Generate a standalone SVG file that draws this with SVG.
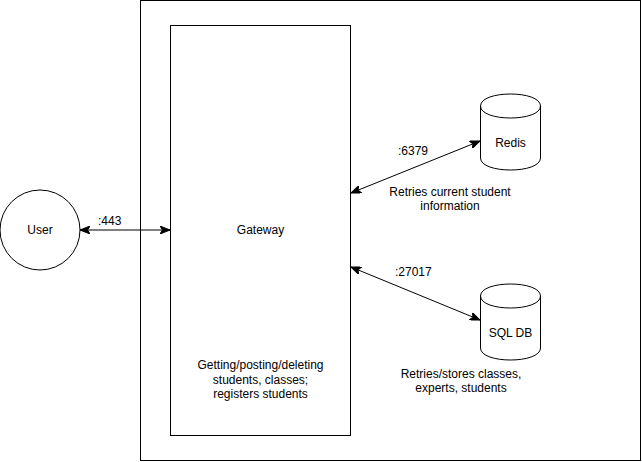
<svg xmlns="http://www.w3.org/2000/svg" width="642" height="462" viewBox="0 0 642 462">
<defs>
<marker id="arr" viewBox="0 0 10 8" refX="10" refY="4" markerWidth="10" markerHeight="8" markerUnits="userSpaceOnUse" orient="auto-start-reverse">
<path d="M0,0 L10,4 L0,8 L2.5,4 Z" fill="#000" stroke="#000" stroke-width="1"/>
</marker>
</defs>
<style>
.s{fill:#fff;stroke:#000;stroke-width:1}
.t{font-family:"Liberation Sans",Arial,sans-serif;font-size:12px;fill:#000}
.c{text-anchor:middle}
.e{fill:none;stroke:#000;stroke-width:1}
</style>
<rect width="642" height="462" fill="#fff"/>
<g id="boundary"><rect class="s" x="140.5" y="0.5" width="500" height="460"/></g>
<g id="user"><circle class="s" cx="40" cy="230" r="40"/><text class="t c" x="40" y="234">User</text></g>
<g id="gateway"><rect class="s" x="170.5" y="25.5" width="180" height="410"/>
<text class="t c" x="260.5" y="234">Gateway</text>
<text class="t c" x="260.5" y="369">Getting/posting/deleting</text>
<text class="t c" x="260.5" y="384">students, classes;</text>
<text class="t c" x="260.5" y="398">registers students</text>
</g>
<g id="redis"><path class="s" d="M480.5,106 C480.5,90 540.5,90 540.5,106 L540.5,158 C540.5,174 480.5,174 480.5,158 Z"/>
<path class="e" d="M480.5,106 C480.5,122 540.5,122 540.5,106"/>
<text class="t c" x="510.5" y="147">Redis</text></g>
<g id="sqldb"><path class="s" d="M480.5,296 C480.5,280 540.5,280 540.5,296 L540.5,348 C540.5,364 480.5,364 480.5,348 Z"/>
<path class="e" d="M480.5,296 C480.5,312 540.5,312 540.5,296"/>
<text class="t c" x="510.5" y="337">SQL DB</text></g>
<g id="connectors">
<line class="e" x1="80" y1="230" x2="170" y2="230" marker-start="url(#arr)" marker-end="url(#arr)"/>
<line class="e" x1="351" y1="193" x2="480" y2="141" marker-start="url(#arr)" marker-end="url(#arr)"/>
<line class="e" x1="351" y1="267" x2="480" y2="320" marker-start="url(#arr)" marker-end="url(#arr)"/>
<text class="t" x="98" y="225">:443</text>
<text class="t" x="398" y="155">:6379</text>
<text class="t" x="395" y="276">:27017</text>
<text class="t c" x="450" y="196">Retries current student</text>
<text class="t c" x="450" y="210">information</text>
<text class="t c" x="461" y="378">Retries/stores classes,</text>
<text class="t c" x="461" y="392">experts, students</text>
</g>
</svg>
